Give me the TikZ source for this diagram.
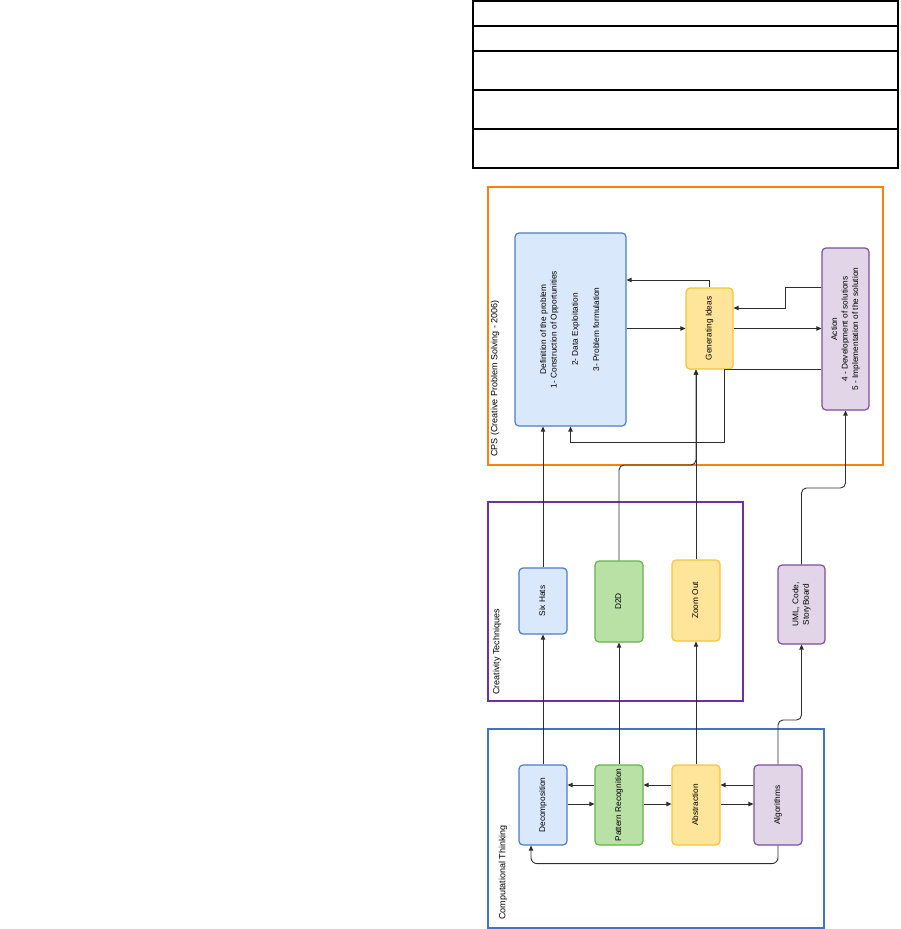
\documentclass[tikz,border=0pt]{standalone}
\usepackage{fontspec}
\setmainfont{Liberation Sans}
\usepackage{graphicx}
\usetikzlibrary{arrows.meta}

\definecolor{cpsorange}{RGB}{255,128,10}
\definecolor{techpurple}{RGB}{112,48,160}
\definecolor{ctblue}{RGB}{68,114,196}
\definecolor{edgegray}{RGB}{45,45,45}
\definecolor{fillblue}{RGB}{218,232,252}
\definecolor{drawblue}{RGB}{74,125,200}
\definecolor{fillgreen}{RGB}{185,224,165}
\definecolor{drawgreen}{RGB}{100,180,70}
\definecolor{fillyellow}{RGB}{255,229,153}
\definecolor{drawyellow}{RGB}{242,196,60}
\definecolor{fillpurple}{RGB}{225,213,231}
\definecolor{drawpurple}{RGB}{125,80,160}

\newcommand{\rottext}[1]{\rotatebox{90}{\begin{tabular}{@{}c@{}}#1\end{tabular}}}

\begin{document}
\begin{tikzpicture}[x=1pt, y=-1pt,
box_style/.style={rectangle, rounded corners=4pt, line width=1.2pt, inner sep=0pt, minimum width=48pt, minimum height=80pt, font=\fontsize{8.3}{10.6}\selectfont},
blue_box/.style={box_style, draw=drawblue, fill=fillblue},
green_box/.style={box_style, draw=drawgreen, fill=fillgreen},
yellow_box/.style={box_style, draw=drawyellow, fill=fillyellow},
purple_box/.style={box_style, draw=drawpurple, fill=fillpurple},
group_style/.style={rectangle, line width=1.4pt, inner sep=0pt},
group_label/.style={rotate=90, anchor=west, inner sep=0pt, font=\fontsize{9}{11}\selectfont},
edge_style/.style={draw=edgegray, line width=0.9pt, -{Triangle[length=5pt,width=4.5pt]}},
]
\useasboundingbox (0,0) rectangle (901,929);

% empty table
\draw[line width=1.3pt] (473,1) rectangle (898,168);
\foreach \row in {26,51,90,129}{
	\draw[line width=1.3pt] (473,\row) -- (898,\row);
	}

% groups
\node[group_style, draw=cpsorange, minimum width=395pt, minimum height=278pt] at (685.5,326) (cps) {};
\node[group_style, draw=techpurple, minimum width=255pt, minimum height=199pt] at (615.5,601.5) (creative) {};
\node[group_style, draw=ctblue, minimum width=336pt, minimum height=199pt] at (656,828.5) (computational) {};

\node[group_label] at (495,457) (cps_label) {CPS (Creative Problem  Solving -  2006)};
\node[group_label] at (497,695) (creative_label) {Creativity Techniques};
\node[group_label] at (503,920) (computational_label) {Computational Thinking};

% CPS
\node[blue_box, minimum width=111pt, minimum height=193pt] at (570.5,329.5) (definition) {\rottext{Definition of the problem\\ 1- Construction of Opportunities\\[10.6pt] 2- Data Exploitation\\[10.6pt] 3- Problem formulation}};
\node[yellow_box, minimum width=47pt, minimum height=81pt] at (709.5,328.5) (ideas) {\rottext{Generating Ideas}};
\node[purple_box, minimum width=47pt, minimum height=162pt] at (845.5,329) (action) {\rottext{Action\\ 4 - Development of solutions\\ 5 - Implementation of the solution}};

% creativity techniques
\node[blue_box, minimum height=66pt] at (543,601) (sixhats) {\rottext{Six Hats}};
\node[green_box, minimum height=81pt] at (619,601.5) (d2d) {\rottext{D2D}};
\node[yellow_box, minimum height=81pt] at (696,600.5) (zoomout) {\rottext{Zoom Out}};
\node[purple_box, minimum width=47pt, minimum height=79pt] at (801.5,604.5) (uml) {\rottext{UML, Code,\\ StoryBoard}};

% computational thinking
\node[blue_box] at (543,805) (decomp) {\rottext{Decomposition}};
\node[green_box] at (619,805) (pattern) {\rottext{Pattern Recognition}};
\node[yellow_box] at (696,805) (abstr) {\rottext{Abstraction}};
\node[purple_box] at (778,805) (algo) {\rottext{Algorithms}};

\foreach \a/\b in {decomp/pattern, pattern/abstr, abstr/algo}{
	\draw[edge_style] ([yshift=20pt]\b.west) -- ([yshift=20pt]\a.east);
	\draw[edge_style] ([yshift=1pt]\a.east) -- ([yshift=1pt]\b.west);
	}
\draw[edge_style, rounded corners=6pt] (algo.south) -- ++(0,18) -| ([xshift=-12pt]decomp.south);

\draw[edge_style] (decomp.north) -- (sixhats.south);
\draw[edge_style] (pattern.north) -- (d2d.south);
\draw[edge_style] (abstr.north) -- (zoomout.south);
\draw[edge_style, rounded corners=5pt] (algo.north) |- (uml.south |- 0,720) -- (uml.south);

\draw[edge_style] (sixhats.north) -- (sixhats.north |- definition.south);
\draw[edge_style] (zoomout.north) -- (zoomout.north |- ideas.south);
\draw[edge_style, rounded corners=5pt] (d2d.north) |- (zoomout.north |- 0,465) -- (zoomout.north |- ideas.south);
\draw[edge_style, rounded corners=5pt] (uml.north) |- (action.south |- 0,488) -- (action.south);

\draw[edge_style] (ideas.north) |- (definition.east |- 0,280);
\draw[edge_style] (ideas.west -| definition.east) -- (ideas.west);
\draw[edge_style] (ideas.east) -- (ideas.east -| action.west);
\draw[edge_style] (action.west |- 0,287) -- ++(-36,0) |- (ideas.east |- 0,308);
\draw[edge_style] (action.west |- ideas.south) -| (724,442) -| (definition.south);

\end{tikzpicture}
\end{document}
